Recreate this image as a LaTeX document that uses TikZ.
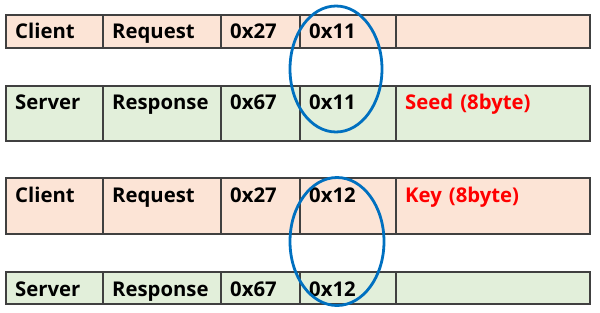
\documentclass[tikz,border=0pt]{standalone}
\usepackage{fontspec}
\setmainfont{Open Sans}
\definecolor{reqfill}{HTML}{FCE4D6}
\definecolor{resfill}{HTML}{E2EFDA}
\definecolor{cellline}{HTML}{404040}
\definecolor{markblue}{HTML}{0070C0}
\definecolor{datared}{HTML}{FF0000}
\newcommand{\pktCell}[6]{\node[pktcell, fill=#5, minimum width=#3, minimum height=#4] (#1) at (#2) {};
\node[pkttext] at ([xshift=9pt, yshift=-24pt]#1.north west) {#6};}

\begin{document}
\begin{tikzpicture}[x=1pt,y=-1pt,
  pktcell/.style={draw=cellline, line width=1.2pt, anchor=north west, inner sep=0pt, outer sep=0pt},
  pkttext/.style={anchor=base west, inner sep=0pt, font={\fontsize{20.3}{22}\selectfont\bfseries}},
  subfnmark/.style={draw=markblue, line width=2.8pt}]
\useasboundingbox (0,0) rectangle (600,313);
% Client request 0x27 0x11
\pktCell{reqA1}{6,15}{97}{33}{reqfill}{Client}
\pktCell{reqA2}{103,15}{118}{33}{reqfill}{Request}
\pktCell{reqA3}{221,15}{79}{33}{reqfill}{0x27}
\pktCell{reqA4}{300,15}{96}{33}{reqfill}{0x11}
\pktCell{reqA5}{396,15}{194}{33}{reqfill}{}
% Server response 0x67 0x11
\pktCell{resA1}{6,86}{97}{55}{resfill}{Server}
\pktCell{resA2}{103,86}{118}{55}{resfill}{Response}
\pktCell{resA3}{221,86}{79}{55}{resfill}{0x67}
\pktCell{resA4}{300,86}{96}{55}{resfill}{0x11}
\pktCell{resA5}{396,86}{194}{55}{resfill}{\textcolor{datared}{Seed\hspace{0.35em}(8byte)}}
% Client request 0x27 0x12
\pktCell{reqB1}{6,178}{97}{56}{reqfill}{Client}
\pktCell{reqB2}{103,178}{118}{56}{reqfill}{Request}
\pktCell{reqB3}{221,178}{79}{56}{reqfill}{0x27}
\pktCell{reqB4}{300,178}{96}{56}{reqfill}{0x12}
\pktCell{reqB5}{396,178}{194}{56}{reqfill}{\textcolor{datared}{Key\hspace{0.35em}(8byte)}}
% Server response 0x67 0x12
\pktCell{resB1}{6,272}{97}{32}{resfill}{Server}
\pktCell{resB2}{103,272}{118}{32}{resfill}{Response}
\pktCell{resB3}{221,272}{79}{32}{resfill}{0x67}
\pktCell{resB4}{300,272}{96}{32}{resfill}{0x12}
\pktCell{resB5}{396,272}{194}{32}{resfill}{}
% sub-function marks
\draw[subfnmark] (336,69) ellipse [x radius=46, y radius=63];
\draw[subfnmark] (337,241.5) ellipse [x radius=47, y radius=64];
\end{tikzpicture}
\end{document}
